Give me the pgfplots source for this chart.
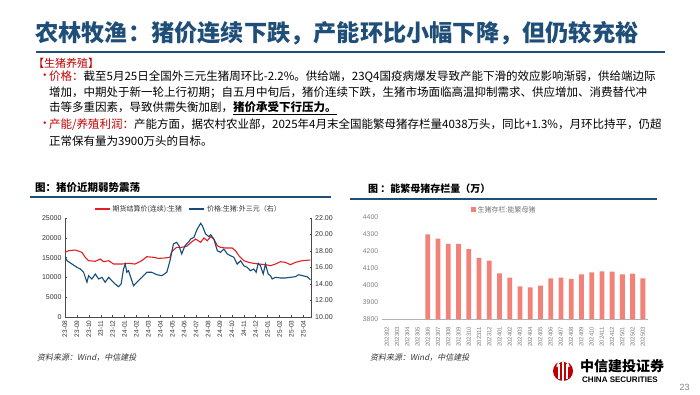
\documentclass[border=0pt]{standalone}
\usepackage{pgfplots}
\pgfplotsset{compat=1.18}
\usepackage{fontspec}
\setmainfont{Liberation Sans}
\newfontfamily\cjk{Noto Sans CJK SC}
\newfontfamily\cjkit{Noto Sans CJK SC}[FakeSlant=0.2]
\XeTeXlinebreaklocale "zh"
\XeTeXlinebreakskip=0pt plus 2pt minus 0.5pt
\definecolor{tblue}{RGB}{31,78,121}
\definecolor{dred}{RGB}{192,0,0}
\definecolor{lred}{RGB}{228,30,38}
\definecolor{lblue}{RGB}{22,76,120}
\definecolor{barc}{RGB}{242,130,120}
\begin{document}
\begin{tikzpicture}[x=1pt,y=1pt]
\path[use as bounding box, fill=white] (0,0) rectangle (700,394);
% title
\node[anchor=west, inner sep=0, text=tblue, font={\cjk\bfseries\fontsize{23.2}{26}\selectfont}] at (35,361) {农林牧渔：猪价连续下跌，产能环比小幅下降，但仍较充裕};
\draw[tblue, line width=2pt] (36,342) -- (665,342);
% text block
\node[anchor=west, inner sep=0, text=dred, font={\cjk\fontsize{11}{13}\selectfont}] at (33,331) {【生猪养殖】};
\begin{scope}[every node/.style={anchor=west, inner sep=0, font={\cjk\fontsize{11.5}{13}\selectfont}}]
\node[text=dred] at (39,317) {•};
\node at (49,317) {\hbox to 606pt{{\color{dred}价格：}截至5月25日全国外三元生猪周环比-2.2\%。供给端，23Q4国疫病爆发导致产能下滑的效应影响渐弱，供给端边际}};
\node at (49,301) {\hbox to 606pt{增加，中期处于新一轮上行初期；自五月中旬后，猪价连续下跌，生猪市场面临高温抑制需求、供应增加、消费替代冲}};
\node at (49,286) {击等多重因素，导致供需失衡加剧，\underline{\bfseries 猪价承受下行压力。}};
\node[text=dred] at (39,269) {•};
\node at (49,269) {\hbox to 606pt{{\color{dred}产能/养殖利润：}产能方面，据农村农业部，2025年4月末全国能繁母猪存栏量4038万头，同比+1.3\%，月环比持平，仍超}};
\node at (49,253) {正常保有量为3900万头的目标。};
\end{scope}
% chart titles
\node[anchor=west, inner sep=0, font={\cjk\bfseries\fontsize{10.5}{12}\selectfont}] at (35,206) {图：猪价近期弱势震荡};
\draw[tblue, line width=1.5pt] (30,197) -- (331,197);
\node[anchor=west, inner sep=0, font={\cjk\bfseries\fontsize{10}{12}\selectfont}] at (368,205) {图 ：能繁母猪存栏量（万）};
\draw[tblue, line width=1.5pt] (350,195) -- (657,195);
% left chart, left axis
\begin{axis}[at={(65pt,77pt)}, anchor=south west, scale only axis, width=246.7pt, height=99pt,
  xmin=0, xmax=20.7, ymin=0, ymax=25000,
  axis x line*=bottom, axis y line*=left,
  xtick={0,...,20},
  xticklabels={23-08,23-09,23-10,23-11,23-12,24-01,24-02,24-03,24-04,24-05,24-06,24-07,24-08,24-09,24-10,24-11,24-12,25-01,25-02,25-03,25-04},
  x tick label style={rotate=90, anchor=east, font=\fontsize{6.5}{7}\selectfont, text=black!80},
  ytick={0,5000,10000,15000,20000,25000},
  scaled y ticks=false,
  y tick label style={font=\fontsize{7}{8}\selectfont, text=black!80, /pgf/number format/1000 sep={}},
  /pgf/number format/assume math mode=true,
  axis line style={black!70, line width=0.6pt},
  tick style={black!70, line width=0.5pt},
  major tick length=2pt,
  ]
\addplot[lred, line width=1.1pt] coordinates {
(0,16330)(0.31,16740)(0.86,16920)(1.42,16330)(1.70,15070)(1.98,14220)(2.54,14060)(2.95,14640)(3.24,13970)(3.66,14220)(4.08,13380)(4.77,13380)(5.33,13550)(5.88,13380)(6.44,14220)(6.86,15230)(7.42,15070)(7.84,14810)(8.39,14900)(8.81,15070)(8.95,16500)(9.37,17600)(9.79,17600)(10.21,17850)(10.69,19110)(10.96,19690)(11.38,18860)(11.66,19950)(11.94,19270)(12.22,20280)(12.49,19690)(12.78,18000)(13.05,17600)(13.47,17420)(14.03,17420)(14.31,16740)(14.59,15480)(15.00,14220)(15.42,13800)(15.84,13550)(16.26,13380)(16.82,13210)(17.24,12950)(17.66,13380)(18.08,13970)(18.49,13800)(18.91,13210)(19.33,13800)(19.89,14220)(20.59,14390)
};
\end{axis}
% left chart, right axis
\begin{axis}[at={(65pt,77pt)}, anchor=south west, scale only axis, width=246.7pt, height=99pt,
  xmin=0, xmax=20.7, ymin=10, ymax=22,
  axis x line=none, axis y line*=right,
  ytick={10,12,14,16,18,20,22},
  y tick label style={font=\fontsize{7}{8}\selectfont, text=black!80, /pgf/number format/.cd, fixed, fixed zerofill, precision=2},
  /pgf/number format/assume math mode=true,
  axis line style={black!70, line width=0.6pt},
  tick style={black!70, line width=0.5pt},
  major tick length=2pt,
  legend style={at={(0.5,1)}, anchor=south, yshift=1pt, draw=none, fill=none, legend columns=2,
    font=\fontsize{7}{8}\selectfont, text=black!80, /tikz/every even column/.append style={column sep=4pt}},
  legend image code/.code={\draw[#1] (0pt,0pt) -- (15pt,0pt);},
  ]
\addlegendimage{lred, line width=1.8pt}
\addlegendentry{\cjk 期货结算价(连续):生猪}
\addplot[lblue, line width=1.1pt, forget plot] coordinates {
(0,17.31)(0.17,16.82)(0.59,16.42)(1.00,16.02)(1.28,15.82)(1.56,15.42)(1.84,14.21)(1.98,15.01)(2.26,14.61)(2.54,15.21)(2.82,14.61)(3.10,14.81)(3.37,14.21)(3.66,14.81)(3.93,14.40)(4.21,14.00)(4.49,13.67)(4.71,14.00)(4.91,15.82)(5.05,16.42)(5.19,15.42)(5.33,15.61)(5.61,14.40)(5.75,13.79)(6.03,14.21)(6.30,14.61)(6.59,15.01)(6.86,15.42)(7.28,15.42)(7.70,15.13)(8.12,15.01)(8.54,15.42)(8.81,16.82)(9.10,18.85)(9.37,19.05)(9.56,18.64)(9.79,17.64)(10.07,18.64)(10.35,19.05)(10.54,19.45)(10.82,19.66)(11.10,20.67)(11.38,21.36)(11.52,21.07)(11.80,20.06)(12.08,19.73)(12.22,19.98)(12.49,19.45)(12.78,18.04)(13.05,17.84)(13.33,18.24)(13.62,17.64)(13.89,17.43)(14.17,17.24)(14.45,16.42)(14.73,16.82)(15.00,16.22)(15.29,16.02)(15.56,15.61)(15.84,15.82)(16.04,15.42)(16.21,16.51)(16.40,16.22)(16.63,15.21)(16.82,16.42)(17.05,15.21)(17.24,15.01)(17.38,14.61)(17.66,14.81)(18.08,14.73)(18.49,14.73)(18.91,14.81)(19.33,14.89)(19.61,15.13)(20.03,14.97)(20.31,14.89)(20.59,14.52)
};
\addlegendimage{lblue, line width=1.8pt}
\addlegendentry{\cjk 价格:生猪:外三元（右）}
\end{axis}
% right chart
\begin{axis}[at={(381.6pt,75pt)}, anchor=south west, scale only axis, width=266.4pt, height=102.3pt,
  xmin=-0.5, xmax=25.5, ymin=3800, ymax=4400,
  axis x line*=bottom, axis y line*=left,
  y axis line style={draw=none},
  x axis line style={black!30},
  ytick={3800,3900,4000,4100,4200,4300,4400},
  ytick style={draw=none}, xtick style={draw=none},
  xtick={0,...,25},
  xticklabels={202302,202303,202304,202305,202306,202307,202308,202309,202310,202311,202312,202401,202402,202403,202404,202405,202406,202407,202408,202409,202410,202411,202412,202501,202502,202503},
  x tick label style={rotate=90, anchor=east, font=\fontsize{6}{7}\selectfont, text=black!50},
  y tick label style={font=\fontsize{6.8}{7}\selectfont, text=black!50, /pgf/number format/1000 sep={}},
  /pgf/number format/assume math mode=true,
  ybar, bar width=4.8pt,
  legend style={at={(0.46,1)}, anchor=south, yshift=-1pt, draw=none, fill=none,
    font=\fontsize{7}{8}\selectfont, text=black!55},
  legend image code/.code={\fill[#1] (0pt,-2.5pt) rectangle (5pt,2.5pt);},
  ]
\addplot[fill=barc, draw=none] coordinates {
(4,4296)(5,4271)(6,4241)(7,4240)(8,4210)(9,4158)(10,4142)(11,4067)(12,4042)(13,3992)(14,3986)(15,3996)(16,4038)(17,4042)(18,4036)(19,4062)(20,4073)(21,4080)(22,4078)(23,4062)(24,4066)(25,4039)
};
\addlegendentry{\cjk 生猪存栏:能繁母猪}
\end{axis}
% sources
\node[anchor=west, inner sep=0, font={\cjkit\fontsize{8}{9}\selectfont}, text=black!80] at (37,36) {资料来源：Wind，中信建投};
\node[anchor=west, inner sep=0, font={\cjkit\fontsize{8}{9}\selectfont}, text=black!80] at (370,36) {资料来源：Wind，中信建投};
% logo
\fill[dred] (563,23) circle (10);
\fill[white] (558.3,15.5) rectangle (559.8,30.5);
\fill[white] (566.2,15.5) rectangle (567.7,30.5);
\fill[white] (562.2,13.5) rectangle (563.8,32.5);
\draw[white, line width=1.2pt] (557,27) arc (180:0:6);
\node[anchor=west, inner sep=0, font={\cjk\bfseries\fontsize{14}{15}\selectfont}] at (580,27.5) {中信建投证券};
\node[anchor=west, inner sep=0, font={\bfseries\fontsize{8}{9}\selectfont}] at (582,14.7) {CHINA SECURITIES};
\node[inner sep=0, font=\fontsize{9}{10}\selectfont, text=black!50] at (684.5,6.5) {23};
\end{tikzpicture}
\end{document}
